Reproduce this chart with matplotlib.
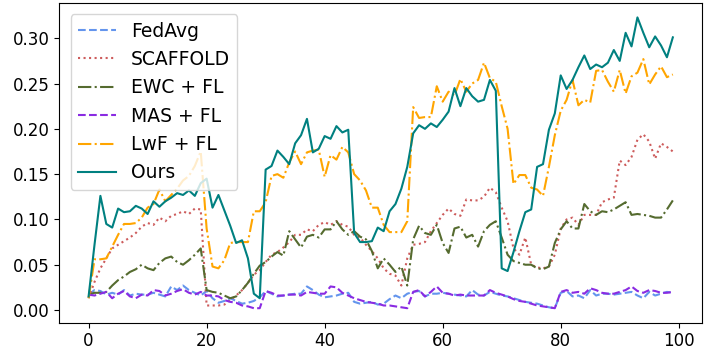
import matplotlib
matplotlib.use("Agg")
import matplotlib.pyplot as plt


rounds = list(range(100))

fedavg = [0.017, 0.022, 0.021, 0.017, 0.019, 0.017, 0.022, 0.016, 0.018, 0.017,
          0.017, 0.019, 0.017, 0.015, 0.026, 0.022, 0.027, 0.022, 0.019, 0.016,
          0.021, 0.013, 0.008, 0.010, 0.013, 0.010, 0.007, 0.008, 0.010, 0.014,
          0.021, 0.018, 0.015, 0.016, 0.017, 0.018, 0.018, 0.026, 0.022, 0.017,
          0.014, 0.015, 0.016, 0.018, 0.019, 0.009, 0.007, 0.008, 0.009, 0.006,
          0.007, 0.012, 0.016, 0.013, 0.018, 0.020, 0.021, 0.015, 0.018, 0.018,
          0.019, 0.018, 0.017, 0.016, 0.015, 0.022, 0.017, 0.016, 0.020, 0.018,
          0.016, 0.015, 0.013, 0.011, 0.009, 0.008, 0.007, 0.005, 0.003, 0.002,
          0.019, 0.021, 0.015, 0.016, 0.013, 0.022, 0.016, 0.018, 0.018, 0.017,
          0.018, 0.019, 0.020, 0.016, 0.013, 0.020, 0.016, 0.018, 0.020, 0.019]

scaffold = [0.013, 0.031, 0.046, 0.057, 0.068, 0.072, 0.076, 0.080, 0.085, 0.092,
            0.096, 0.094, 0.102, 0.098, 0.104, 0.106, 0.109, 0.106, 0.112, 0.111,
            0.005, 0.005, 0.005, 0.006, 0.011, 0.016, 0.022, 0.030, 0.039, 0.044,
            0.053, 0.061, 0.064, 0.069, 0.075, 0.083, 0.083, 0.089, 0.087, 0.094,
            0.097, 0.094, 0.098, 0.094, 0.092, 0.083, 0.080, 0.072, 0.065, 0.057,
            0.046, 0.040, 0.038, 0.027, 0.057, 0.072, 0.073, 0.075, 0.087, 0.096,
            0.105, 0.112, 0.106, 0.104, 0.122, 0.121, 0.121, 0.125, 0.135, 0.130,
            0.113, 0.098, 0.068, 0.061, 0.080, 0.050, 0.047, 0.046, 0.048, 0.061,
            0.090, 0.100, 0.102, 0.094, 0.105, 0.105, 0.105, 0.119, 0.122, 0.124,
            0.165, 0.160, 0.169, 0.188, 0.194, 0.186, 0.167, 0.184, 0.180, 0.175]

ewc = [0.017, 0.019, 0.019, 0.020, 0.027, 0.033, 0.037, 0.042, 0.045, 0.050,
       0.046, 0.044, 0.052, 0.057, 0.059, 0.053, 0.050, 0.055, 0.061, 0.068,
       0.022, 0.020, 0.019, 0.016, 0.013, 0.015, 0.022, 0.030, 0.040, 0.049,
       0.053, 0.059, 0.064, 0.060, 0.087, 0.078, 0.069, 0.081, 0.083, 0.080,
       0.089, 0.089, 0.098, 0.089, 0.083, 0.087, 0.081, 0.078, 0.065, 0.046,
       0.057, 0.050, 0.042, 0.048, 0.027, 0.078, 0.093, 0.085, 0.083, 0.094,
       0.074, 0.063, 0.090, 0.092, 0.080, 0.083, 0.070, 0.087, 0.094, 0.098,
       0.080, 0.061, 0.054, 0.052, 0.050, 0.050, 0.046, 0.045, 0.048, 0.074,
       0.089, 0.098, 0.090, 0.090, 0.117, 0.109, 0.105, 0.109, 0.108, 0.111,
       0.115, 0.119, 0.105, 0.106, 0.105, 0.104, 0.102, 0.102, 0.111, 0.121]

mas = [0.017, 0.016, 0.018, 0.020, 0.013, 0.018, 0.021, 0.015, 0.013, 0.017,
       0.016, 0.022, 0.021, 0.016, 0.018, 0.021, 0.023, 0.019, 0.017, 0.020,
       0.016, 0.016, 0.015, 0.011, 0.009, 0.008, 0.005, 0.004, 0.002, 0.002,
       0.021, 0.019, 0.016, 0.016, 0.017, 0.017, 0.016, 0.020, 0.019, 0.018,
       0.018, 0.026, 0.025, 0.019, 0.016, 0.013, 0.011, 0.009, 0.008, 0.007,
       0.005, 0.005, 0.004, 0.003, 0.002, 0.020, 0.022, 0.015, 0.020, 0.026,
       0.019, 0.018, 0.016, 0.017, 0.016, 0.016, 0.016, 0.016, 0.022, 0.019,
       0.017, 0.015, 0.012, 0.010, 0.009, 0.007, 0.005, 0.004, 0.003, 0.002,
       0.020, 0.022, 0.019, 0.020, 0.018, 0.024, 0.022, 0.019, 0.018, 0.018,
       0.020, 0.022, 0.026, 0.021, 0.019, 0.022, 0.021, 0.019, 0.019, 0.020]

lwf = [0.013, 0.056, 0.056, 0.057, 0.070, 0.083, 0.095, 0.095, 0.096, 0.102,
       0.113, 0.117, 0.133, 0.120, 0.127, 0.134, 0.143, 0.148, 0.159, 0.175,
       0.090, 0.048, 0.046, 0.055, 0.074, 0.075, 0.075, 0.075, 0.109, 0.109,
       0.119, 0.148, 0.150, 0.146, 0.163, 0.175, 0.161, 0.174, 0.176, 0.177,
       0.147, 0.171, 0.166, 0.180, 0.174, 0.150, 0.143, 0.132, 0.113, 0.113,
       0.094, 0.086, 0.086, 0.086, 0.098, 0.224, 0.212, 0.213, 0.213, 0.247,
       0.230, 0.241, 0.237, 0.255, 0.241, 0.250, 0.254, 0.273, 0.256, 0.252,
       0.225, 0.200, 0.139, 0.149, 0.149, 0.135, 0.133, 0.126, 0.158, 0.193,
       0.220, 0.232, 0.254, 0.226, 0.232, 0.229, 0.264, 0.265, 0.252, 0.241,
       0.265, 0.239, 0.258, 0.262, 0.277, 0.249, 0.260, 0.269, 0.257, 0.260]

ours = [0.015, 0.072, 0.126, 0.095, 0.091, 0.112, 0.108, 0.109, 0.115, 0.112,
        0.106, 0.120, 0.114, 0.120, 0.124, 0.129, 0.127, 0.132, 0.126, 0.140,
        0.145, 0.113, 0.127, 0.110, 0.093, 0.074, 0.077, 0.057, 0.018, 0.013,
        0.155, 0.159, 0.176, 0.169, 0.161, 0.184, 0.193, 0.211, 0.174, 0.178,
        0.192, 0.189, 0.203, 0.196, 0.199, 0.085, 0.075, 0.075, 0.076, 0.091,
        0.087, 0.109, 0.117, 0.134, 0.158, 0.195, 0.204, 0.200, 0.206, 0.202,
        0.210, 0.219, 0.245, 0.225, 0.245, 0.236, 0.230, 0.232, 0.254, 0.242,
        0.046, 0.043, 0.064, 0.087, 0.108, 0.111, 0.158, 0.161, 0.199, 0.217,
        0.259, 0.244, 0.254, 0.268, 0.281, 0.266, 0.271, 0.268, 0.273, 0.287,
        0.275, 0.306, 0.291, 0.323, 0.306, 0.290, 0.302, 0.292, 0.279, 0.301]


fig, ax = plt.subplots(figsize=(7.07, 3.59), dpi=100)
fig.subplots_adjust(left=0.084, right=0.993, top=0.992, bottom=0.101)

ax.plot(rounds, fedavg, linestyle="--", color="cornflowerblue", label="FedAvg")
ax.plot(rounds, scaffold, linestyle=":", color="indianred", label="SCAFFOLD")
ax.plot(rounds, ewc, linestyle="-.", color="darkolivegreen", label="EWC + FL")
ax.plot(rounds, mas, linestyle="--", color="blueviolet", label="MAS + FL")
ax.plot(rounds, lwf, linestyle="-.", color="orange", label="LwF + FL")
ax.plot(rounds, ours, linestyle="-", color="teal", label="Ours")

ax.set_xticks([0, 20, 40, 60, 80, 100])
ax.set_yticks([0.00, 0.05, 0.10, 0.15, 0.20, 0.25, 0.30])
ax.tick_params(labelsize=12)
# legend text a bit bigger than the tick labels
ax.legend(loc="upper left", fontsize=13.5, borderaxespad=0.6)

fig.savefig("out.png", dpi=100)
